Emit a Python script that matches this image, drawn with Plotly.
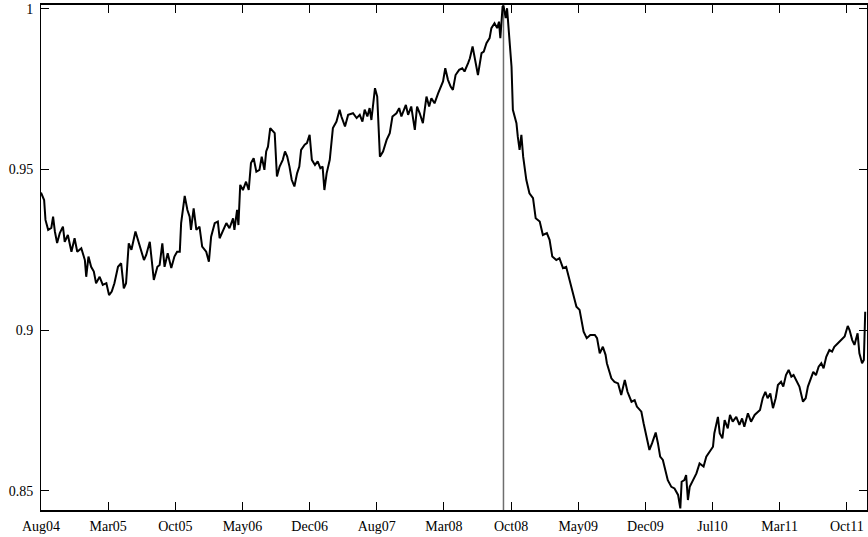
import plotly.graph_objects as go

# Trading-day number since the start of the sample and the index level on that day
day = [
    0, 7, 10, 16, 23, 27, 31, 36, 42, 49, 53, 60, 68, 75, 81, 90, 98, 101, 106, 112,
    118, 123, 131, 138, 146, 152, 158, 164, 172, 179, 185, 190, 196, 202, 211, 217, 224, 230, 235, 243,
    252, 260, 265, 271, 276, 283, 291, 298, 304, 310, 313, 321, 327, 332, 335, 341, 347, 354, 360, 369,
    375, 380, 388, 395, 399, 406, 414, 421, 429, 432, 438, 441, 445, 451, 458, 464, 469, 475, 481, 488,
    493, 499, 503, 507, 512, 522, 527, 533, 540, 545, 550, 555, 560, 566, 572, 577, 581, 589, 594, 600,
    605, 612, 618, 624, 629, 633, 638, 645, 652, 660, 667, 671, 679, 686, 697, 705, 712, 718, 723, 729,
    734, 738, 746, 751, 757, 764, 772, 779, 785, 794, 800, 805, 815, 820, 827, 835, 840, 846, 853, 861,
    867, 872, 879, 887, 894, 898, 903, 909, 915, 920, 926, 934, 941, 946, 954, 958, 964, 969, 976, 984,
    989, 995, 1002, 1006, 1013, 1019, 1023, 1026, 1031, 1033, 1038, 1041, 1045, 1051, 1054, 1062, 1065, 1069, 1073, 1077,
    1084, 1091, 1099, 1105, 1114, 1121, 1130, 1136, 1142, 1151, 1158, 1166, 1173, 1181, 1188, 1196, 1203, 1207, 1212, 1219,
    1227, 1237, 1242, 1248, 1255, 1261, 1264, 1274, 1281, 1289, 1296, 1304, 1310, 1319, 1326, 1331, 1341, 1346, 1352, 1359,
    1365, 1373, 1378, 1383, 1389, 1395, 1400, 1408, 1415, 1423, 1428, 1431, 1437, 1441, 1445, 1449, 1456, 1464, 1471, 1480,
    1486, 1493, 1501, 1504, 1512, 1516, 1522, 1527, 1534, 1539, 1545, 1553, 1560, 1566, 1571, 1579, 1586, 1594, 1601, 1606,
    1612, 1618, 1623, 1629, 1635, 1641, 1646, 1653, 1658, 1664, 1670, 1676, 1681, 1687, 1694, 1702, 1708, 1713, 1720, 1725,
    1731, 1737, 1743, 1748, 1754, 1761, 1767, 1772, 1780, 1787, 1795, 1802, 1806, 1812, 1817, 1824, 1828, 1834, 1838, 1841,
]

level = [
    0.9428, 0.9405, 0.9343, 0.9312, 0.9318, 0.9353, 0.9307, 0.9271, 0.9302, 0.9322,
    0.9275, 0.9296, 0.9244, 0.9286, 0.9244, 0.9255, 0.9218, 0.9166, 0.9229, 0.9197,
    0.9182, 0.9146, 0.9166, 0.9141, 0.9146, 0.9109, 0.9120, 0.9146, 0.9197, 0.9208,
    0.9130, 0.9146, 0.9270, 0.9250, 0.9307, 0.9281, 0.9244, 0.9218, 0.9234, 0.9275,
    0.9156, 0.9197, 0.9203, 0.9270, 0.9197, 0.9239, 0.9193, 0.9229, 0.9244, 0.9244,
    0.9333, 0.9418, 0.9374, 0.9353, 0.9312, 0.9379, 0.9312, 0.9322, 0.9260, 0.9244,
    0.9213, 0.9291, 0.9333, 0.9338, 0.9286, 0.9307, 0.9333, 0.9317, 0.9348, 0.9312,
    0.9374, 0.9327, 0.9452, 0.9436, 0.9462, 0.9436, 0.9520, 0.9535, 0.9493, 0.9499,
    0.9540, 0.9499, 0.9556, 0.9571, 0.9629, 0.9613, 0.9478, 0.9509, 0.9530, 0.9556,
    0.9540, 0.9509, 0.9468, 0.9447, 0.9488, 0.9509, 0.9561, 0.9577, 0.9582, 0.9608,
    0.9530, 0.9514, 0.9525, 0.9504, 0.9509, 0.9436, 0.9488, 0.9530, 0.9629, 0.9649,
    0.9686, 0.9665, 0.9634, 0.9670, 0.9675, 0.9660, 0.9670, 0.9649, 0.9686, 0.9665,
    0.9691, 0.9654, 0.9753, 0.9727, 0.9540, 0.9556, 0.9592, 0.9613, 0.9665, 0.9675,
    0.9691, 0.9665, 0.9701, 0.9670, 0.9696, 0.9623, 0.9696, 0.9675, 0.9644, 0.9727,
    0.9696, 0.9722, 0.9706, 0.9737, 0.9763, 0.9774, 0.9815, 0.9779, 0.9758, 0.9748,
    0.9794, 0.9810, 0.9815, 0.9805, 0.9831, 0.9846, 0.9883, 0.9841, 0.9794, 0.9862,
    0.9867, 0.9893, 0.9909, 0.9940, 0.9955, 0.9940, 0.9960, 0.9909, 1.0007, 1.0010,
    0.9971, 1.0002, 0.9924, 0.9820, 0.9686, 0.9644, 0.9602, 0.9561, 0.9608, 0.9540,
    0.9468, 0.9426, 0.9411, 0.9348, 0.9338, 0.9296, 0.9302, 0.9281, 0.9229, 0.9218,
    0.9224, 0.9193, 0.9197, 0.9156, 0.9115, 0.9073, 0.9063, 0.9032, 0.8995, 0.8975,
    0.8985, 0.8985, 0.8975, 0.8928, 0.8948, 0.8923, 0.8897, 0.8850, 0.8839, 0.8834,
    0.8798, 0.8845, 0.8808, 0.8777, 0.8782, 0.8762, 0.8746, 0.8710, 0.8668, 0.8627,
    0.8648, 0.8681, 0.8648, 0.8606, 0.8596, 0.8564, 0.8533, 0.8512, 0.8507, 0.8487,
    0.8445, 0.8528, 0.8533, 0.8549, 0.8471, 0.8512, 0.8533, 0.8554, 0.8585, 0.8575,
    0.8606, 0.8621, 0.8637, 0.8679, 0.8730, 0.8679, 0.8663, 0.8720, 0.8694, 0.8736,
    0.8715, 0.8730, 0.8705, 0.8725, 0.8699, 0.8741, 0.8715, 0.8736, 0.8746, 0.8751,
    0.8788, 0.8808, 0.8788, 0.8803, 0.8757, 0.8788, 0.8829, 0.8839, 0.8824, 0.8860,
    0.8876, 0.8855, 0.8860, 0.8845, 0.8824, 0.8777, 0.8788, 0.8824, 0.8850, 0.8870,
    0.8860, 0.8886, 0.8897, 0.8881, 0.8917, 0.8938, 0.8933, 0.8948, 0.8959, 0.8969,
    0.8980, 0.9013, 0.9000, 0.8969, 0.8954, 0.8990, 0.8928, 0.8897, 0.8907, 0.9057,
]

# Date axis labels, one every 150 trading days
tick_days = [0, 150, 300, 450, 600, 750, 900, 1050, 1200, 1350, 1500, 1650, 1800]
tick_labels = ["Aug04", "Mar05", "Oct05", "May06", "Dec06", "Aug07", "Mar08",
               "Oct08", "May09", "Dec09", "Jul10", "Mar11", "Oct11"]
y_ticks = [0.85, 0.9, 0.95, 1.0]
y_labels = ["0.85", "0.9", "0.95", "1"]

# Mid-September 2008 marker
event_day = 1033

fig = go.Figure()
fig.add_trace(go.Scatter(
    x=day, y=level, mode="lines",
    line=dict(color="black", width=2),
    showlegend=False, hoverinfo="skip",
))

fig.add_shape(
    type="line", xref="x", yref="paper",
    x0=event_day, x1=event_day, y0=0, y1=1,
    line=dict(color="#6e6e6e", width=1.5),
    layer="below",
)

font = dict(family="Liberation Serif, Times New Roman, serif", size=14, color="black")

fig.update_layout(
    width=868, height=537,
    margin=dict(l=41, r=1, t=5, b=27),
    paper_bgcolor="white", plot_bgcolor="white",
    font=font,
    showlegend=False,
)

fig.update_xaxes(
    range=[0, 1845],
    tickmode="array", tickvals=tick_days, ticktext=tick_labels,
    ticks="inside", ticklen=8, tickwidth=1, tickcolor="black",
    showline=True, linecolor="black", linewidth=1.5, mirror="ticks",
    showgrid=False, zeroline=False,
    ticklabelstandoff=2,
)
fig.update_yaxes(
    range=[0.844, 1.0012],
    tickmode="array", tickvals=y_ticks, ticktext=y_labels,
    ticks="inside", ticklen=8, tickwidth=1, tickcolor="black",
    showline=True, linecolor="black", linewidth=1, mirror="ticks",
    showgrid=False, zeroline=False,
    ticklabelstandoff=4,
)

fig.write_html("out.html")
